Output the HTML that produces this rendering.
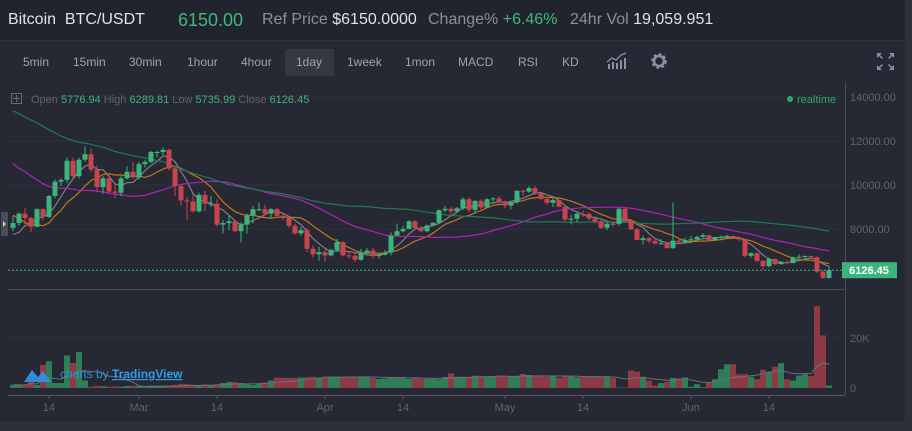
<!DOCTYPE html>
<html><head><meta charset="utf-8">
<style>
*{margin:0;padding:0;box-sizing:border-box}
body{width:912px;height:431px;background:#262833;font-family:"Liberation Sans",sans-serif;overflow:hidden;position:relative}
#hdr{position:absolute;left:0;top:0;width:912px;height:41px;background:#22242d;border-bottom:1px solid #30323c}
.h{position:absolute;top:11px;font-size:16px;color:#8a8f9c;white-space:nowrap}
.w{color:#dfe2ea}.g{color:#3dba7c}
#tb{position:absolute;left:0;top:42px;width:905px;height:40px}
.t{position:absolute;top:7px;height:27px;line-height:27px;font-size:12px;color:#a0a4b0;padding:0 11px}
.sel{background:#353843}
#rs{position:absolute;left:905px;top:0;width:7px;height:431px;background:#2d2f3a}
</style></head><body>
<div id="hdr">
<span class="h w" style="left:8px">Bitcoin&nbsp; BTC/USDT</span>
<span class="h g" style="left:178px;top:10px;font-size:18px">6150.00</span>
<span class="h" style="left:262px">Ref Price <span class="w">$6150.0000</span></span>
<span class="h" style="left:428px">Change% <span class="g">+6.46%</span></span>
<span class="h" style="left:570px">24hr Vol <span class="w">19,059.951</span></span>
</div>
<div id="tb">
<span class="t" style="left:12px">5min</span>
<span class="t" style="left:62px">15min</span>
<span class="t" style="left:118px">30min</span>
<span class="t" style="left:176px">1hour</span>
<span class="t" style="left:230px">4hour</span>
<span class="t sel" style="left:285px;width:49px">1day</span>
<span class="t" style="left:336px">1week</span>
<span class="t" style="left:394px">1mon</span>
<span class="t" style="left:447px">MACD</span>
<span class="t" style="left:507px">RSI</span>
<span class="t" style="left:551px">KD</span>
<svg style="position:absolute;left:606px;top:10px" width="22" height="20">
<g fill="#8a91a6"><rect x="2" y="12" width="2" height="5"/><rect x="6" y="10" width="2" height="7"/><rect x="10" y="11" width="2" height="6"/><rect x="14" y="8" width="2" height="9"/><rect x="18" y="6" width="2" height="11"/></g>
<polyline points="1,10 6,6 10,8 15,3 20,1" fill="none" stroke="#8a91a6" stroke-width="1.3"/></svg>
<svg style="position:absolute;left:650px;top:10px" width="20" height="20">
<circle cx="9" cy="9" r="6" fill="none" stroke="#8a91a6" stroke-width="3.5" stroke-dasharray="2.6 2"/><circle cx="9" cy="9" r="5" fill="none" stroke="#8a91a6" stroke-width="2.5"/></svg>
<svg style="position:absolute;left:876px;top:10px" width="20" height="20">
<g fill="#8a91a6"><path d="M1 1h5l-2 2 3 3-1 1-3-3-2 2z"/><path d="M18 1h-5l2 2-3 3 1 1 3-3 2 2z"/><path d="M1 18h5l-2-2 3-3-1-1-3 3-2-2z"/><path d="M18 18h-5l2-2-3-3 1-1 3 3 2-2z"/></g></svg>
</div>
<div id="rs"></div>
<div style="position:absolute;left:0;top:421px;width:905px;height:10px;background:#2d2f3a"></div>
<svg id="chart" style="position:absolute;left:0;top:82px" width="905" height="339" viewBox="0 82 905 339"></svg>
<script>
const prehist=[15000,16700,17300,16400,16600,17700,19100,18900,18800,17400,16500,15600,13800,14000,13900,14000,15800,15100,14300,14600,14400,14000,13500,14800,15100,15200,17000,17100,16300,14900,14400,14900,13300,13900,14200,13800,13600,11400,11200,11100,11500,12800,11500,10800,10900,11300,11200,11100,11400,11800,11200,10200,10200,9100,8800,9200,8200,6950,7700,7600];
const firstOpen=8050;
const closes=[8270,8700,8500,8100,8900,8550,9500,10150,10230,11100,10400,11150,11400,10700,9900,10300,9700,9650,10300,10600,10350,
10950,11050,11500,11500,11600,10750,9950,9300,9250,8800,9550,9150,9150,8200,8270,8350,7900,8200,8600,8900,8900,8700,8900,8600,8500,8150,7800,7950,7100,6850,6950,
6800,7050,7400,6800,6780,6600,6900,7020,6770,6830,6930,7700,7900,8000,8350,8050,7900,8160,8280,8850,8920,8800,8940,9350,8870,9280,8980,9350,9390,9240,
9070,9220,9740,9700,9860,9620,9370,9190,9310,9010,8430,8470,8690,8680,8480,8340,8060,8240,8230,8920,8400,7990,7500,7580,7460,7340,7350,7130,7470,7400,7490,
7530,7640,7720,7500,7630,7650,7680,7620,7530,6780,6900,6550,6310,6640,6400,6500,6450,6710,6740,6770,6720,6060,5777,6126.45];
const highs=[8600,8750,8950,8550,8950,8950,9550,10250,10300,11250,11250,11250,11750,11650,10900,10400,10450,10050,10400,10850,11050,
11050,11150,11550,11550,11700,11650,10850,10050,9450,9550,9650,9750,9500,9350,8400,8600,8350,8300,8700,9050,9200,9100,8950,8950,8700,8550,8250,8100,8050,7250,7200,
7150,7100,7550,7450,6950,6950,7100,7150,7150,6900,7050,7850,8250,8150,8400,8400,8150,8200,8300,8900,9050,9000,9000,9450,9450,9300,9350,9400,9450,9500,
9300,9250,9750,9800,9950,9950,9650,9450,9400,9300,9050,8650,8750,8850,8750,8500,8400,8300,8350,8950,8950,8450,8050,7700,7650,7600,7550,7400,9200,7550,7600,
7700,7700,7800,7750,7650,7700,7750,7700,7650,7550,6950,6950,6600,6700,6650,6550,6600,6750,6850,6800,6800,6750,6150,6289.81];
const lows=[7900,8150,8200,7850,8100,8400,8500,9400,9950,10100,10300,10300,11050,10600,9700,9600,9600,9400,9500,10250,10300,
10250,10800,11000,11250,11350,10650,9500,9050,8400,8750,8750,8800,9000,8100,7800,7950,7850,7400,7800,8250,8800,8600,8500,8500,8400,8050,7750,7700,6950,6700,6550,
6500,6750,6950,6750,6650,6500,6550,6850,6650,6650,6800,6800,7750,7850,8000,8000,7850,7850,8150,8250,8750,8650,8750,8850,8750,8700,8900,8950,9200,9150,
8950,8900,9150,9500,9650,9550,9300,9100,9000,9000,8350,8200,8300,8550,8400,8250,8000,7950,8100,8150,8300,7950,7500,7300,7350,7300,7300,7100,7100,7350,7350,
7350,7500,7600,7450,7450,7500,7600,7550,7450,6700,6700,6500,6150,6250,6350,6400,6400,6450,6650,6650,6650,6000,5750,5735.99];
const volumes=[1.3,1.2,1.3,3.3,1.2,9.3,10.7,2,2,13,10,14.4,3,0.5,0.8,0.7,0.5,0.6,0.5,0.8,0.9,
0.8,0.5,0.9,1,0.8,0.7,1.2,1.5,1.5,1.3,1,1.4,1.2,1.5,2,2.4,2.3,2,1.5,1.2,1.8,2.2,3,4.2,4.1,4.1,4,4.2,4.3,4.5,4.2,
4.6,4.6,4.6,4.4,4.4,4.2,4.5,4.3,4,3.6,3.8,4.3,4.2,4.1,3.6,4.1,3.6,3.6,3.6,3.5,4.4,5.8,4.5,4.5,4.5,4.9,4.8,4.7,4.6,4.6,
4.8,4.7,4.8,5.6,5.2,4.9,4.6,4.4,4.7,4.1,4.8,4.7,4.2,4.5,4.6,4.8,4.4,4.6,4.0,0.2,0.2,7,6.5,4.5,3,1,2,2.5,4,3.8,4.2,
0.5,1.5,0.3,2,3.5,7.5,9.5,9.5,5.5,5.5,4.5,3.5,7.3,6.5,8.5,10,3.5,3,5,5.5,4.8,32.7,21,1];
const priceTicks=[14000,12000,10000,8000];
const volTicks=[0,20];
const volTickLabels=["0","20K"];
const timeLabels=["14","Mar","14","Apr","14","May","14","Jun","14"];
const timeLabelDays=[6,21,34,52,65,82,95,113,126];
const maPeriods=[5,10,30,60];
const maColors=["#7d7f88","#c07818","#b21fbf","#1f7a55"];

const NS="http://www.w3.org/2000/svg";
const svg=document.getElementById('chart');
const X=i=>13+i*6;
const PY=p=>229-(p-8000)*0.022;
const VY=v=>388-v*2.5;
const UP="#3bb57d",DN="#c9444f",UPV="#2f7e5a",DNV="#8e3a44";
function mk(tag,attrs,parent){const e=document.createElementNS(NS,tag);for(const k in attrs)e.setAttribute(k,attrs[k]);(parent||svg).appendChild(e);return e;}

// grid
priceTicks.forEach(p=>{const l=mk('line',{x1:8,x2:845,y1:PY(p),y2:PY(p),stroke:'#2f323c','stroke-width':1});

const t=mk('text',{x:850,y:PY(p)+4,fill:'#5f636e','font-size':11});t.textContent=p.toFixed(2);
});
mk('line',{x1:8,x2:845,y1:VY(20),y2:VY(20),stroke:'#2f323c'});
volTicks.forEach((v,i)=>{const t=mk('text',{x:850,y:VY(v)+4,fill:'#5f636e','font-size':11});t.textContent=volTickLabels[i];
});
// axes lines
mk('line',{x1:845.5,x2:845.5,y1:82,y2:395,stroke:'#4a4c55'});
mk('line',{x1:8,x2:845,y1:289.5,y2:289.5,stroke:'#4a4c55'});
mk('line',{x1:8,x2:845,y1:395.5,y2:395.5,stroke:'#55575f'});
timeLabels.forEach((s,i)=>{const x=X(timeLabelDays[i]);mk('line',{x1:x,x2:x,y1:395,y2:399,stroke:'#55575f'});
const t=mk('text',{x:x,y:411,fill:'#5f636e','font-size':11,'text-anchor':'middle'});t.textContent=s;
});

const opens=closes.map((c,i)=>i===0?firstOpen:closes[i-1]);
// volume bars
const vg=mk('g',{});
volumes.forEach((v,i)=>{const up=closes[i]>=opens[i];const r=mk('rect',{x:X(i)-3,y:VY(v),width:6,height:Math.max(388-VY(v),0.5),fill:up?UPV:DNV},vg);
});
// volume MA
let vp=[];volumes.forEach((v,i)=>{const s=volumes.slice(Math.max(0,i-9),i+1);vp.push(X(i)+','+VY(s.reduce((a,b)=>a+b,0)/s.length));});
const vma=mk('polyline',{points:vp.join(' '),fill:'none',stroke:'#6d6f78','stroke-width':1});


// watermark
const wm=mk('g',{});

mk('path',{d:'M24 382 l8-12 6 7 5-6 8 11 z',fill:'#2f8ddb'},wm);
const wt=mk('text',{x:60,y:378,fill:'#2f8ddb','font-size':12},wm);wt.textContent='charts by ';
const wt2=mk('tspan',{fill:'#2f9ee8','text-decoration':'underline','font-weight':'bold'},wt);wt2.textContent='TradingView';

// MAs
const all=prehist.concat(closes);const off=prehist.length;
maPeriods.forEach((n,k)=>{const pts=[];closes.forEach((c,i)=>{const j=i+off;const s=all.slice(j-n+1,j+1);pts.push(X(i)+','+PY(s.reduce((a,b)=>a+b,0)/n).toFixed(1));});
const l=mk('polyline',{points:pts.join(' '),fill:'none',stroke:maColors[k],'stroke-width':1.2});
});

// candles
closes.forEach((c,i)=>{const o=opens[i];const up=c>=o;const col=up?UP:DN;const g=mk('g',{});

mk('line',{x1:X(i),x2:X(i),y1:PY(highs[i]),y2:PY(lows[i]),stroke:col,'stroke-width':1},g);
const t=PY(Math.max(o,c)),b=PY(Math.min(o,c));mk('rect',{x:X(i)-2.5,y:t,width:5,height:Math.max(b-t,1),fill:col},g);});

// last price line & label
const last=closes[closes.length-1];
mk('line',{x1:8,x2:845,y1:PY(last),y2:PY(last),stroke:'#3bb57d','stroke-dasharray':'2 2','stroke-width':1});
const lb=mk('rect',{x:842,y:PY(last)-8,width:55,height:16,fill:'#3bb57d'});

const lt=mk('text',{x:869,y:PY(last)+4,fill:'#fff','font-size':11,'font-weight':'bold','text-anchor':'middle'});lt.textContent=last.toFixed(2);

// left tab
mk('rect',{x:1,y:212,width:7,height:24,fill:'#4a4d58',rx:1});
mk('path',{d:'M3 221 l3 3 -3 3 z',fill:'#ccc'});

// legend
const lg=mk('g',{});
mk('rect',{x:11.5,y:93.5,width:10,height:10,fill:'none',stroke:'#666a74'},lg);
mk('path',{d:'M16.5 95v7M13 98.5h7',stroke:'#666a74'},lg);
const leg=mk('text',{x:31,y:103,'font-size':11,fill:'#5f636e'},lg);
[['Open ','5776.94'],[' High ','6289.81'],[' Low ','5735.99'],[' Close ','6126.45']].forEach(([a,b])=>{
const s1=mk('tspan',{},leg);s1.textContent=a;const s2=mk('tspan',{fill:'#3bb57d'},leg);s2.textContent=b;});
mk('circle',{cx:790,cy:99,r:3,fill:'#2fa866'});
const rt=mk('text',{x:797,y:103,'font-size':11,fill:'#2fa866'});rt.textContent='realtime';

</script>
</body></html>
